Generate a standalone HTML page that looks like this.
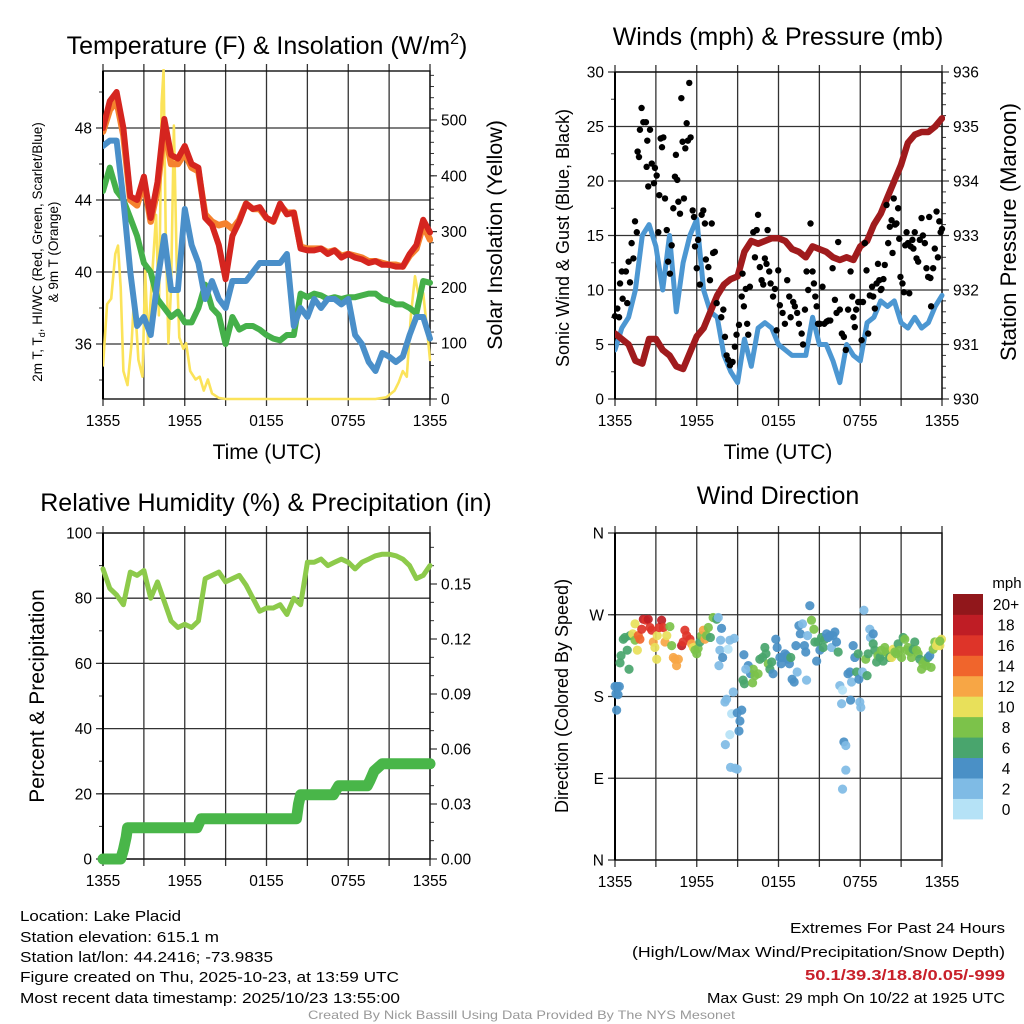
<!DOCTYPE html>
<html><head><meta charset="utf-8">
<style>
html,body{margin:0;padding:0;background:#fff;}
svg{display:block;font-family:"Liberation Sans",Arial,sans-serif;}
</style></head>
<body>
<svg id="fig" width="1024" height="1024" viewBox="0 0 1024 1024" xmlns="http://www.w3.org/2000/svg">
<rect x="0" y="0" width="1024" height="1024" fill="#fff"/>
<!-- Titles -->
<text x="267" y="54" font-size="25" text-anchor="middle">Temperature (F) &amp; Insolation (W/m<tspan font-size="16" dy="-10">2</tspan><tspan dy="10">)</tspan></text>
<text x="778" y="45" font-size="25" text-anchor="middle">Winds (mph) &amp; Pressure (mb)</text>
<text x="266" y="511" font-size="25" text-anchor="middle">Relative Humidity (%) &amp; Precipitation (in)</text>
<text x="778" y="504" font-size="25" text-anchor="middle">Wind Direction</text>

<!-- axis titles -->
<text x="267" y="459" font-size="21" text-anchor="middle">Time (UTC)</text>
<text x="778" y="459" font-size="21" text-anchor="middle">Time (UTC)</text>
<text transform="translate(42,252) rotate(-90)" font-size="13.5" text-anchor="middle">2m T, T<tspan font-size="9" dy="3">d</tspan><tspan dy="-3">, HI/WC (Red, Green, Scarlet/Blue)</tspan></text>
<text transform="translate(58,252) rotate(-90)" font-size="13.5" text-anchor="middle">&amp; 9m T (Orange)</text>
<text transform="translate(502,235) rotate(-90)" font-size="21.5" text-anchor="middle">Solar Insolation (Yellow)</text>
<text transform="translate(569,238) rotate(-90)" font-size="18" text-anchor="middle">Sonic Wind &amp; Gust (Blue, Black)</text>
<text transform="translate(1016,232) rotate(-90)" font-size="22" text-anchor="middle">Station Pressure (Maroon)</text>
<text transform="translate(44,696) rotate(-90)" font-size="21" text-anchor="middle">Percent &amp; Precipitation</text>
<text transform="translate(568,696) rotate(-90)" font-size="18" text-anchor="middle">Direction (Colored By Speed)</text>

<!-- footer -->
<g font-size="14.5">
<text x="20" y="921" textLength="161" lengthAdjust="spacingAndGlyphs">Location: Lake Placid</text>
<text x="20" y="942" textLength="199" lengthAdjust="spacingAndGlyphs">Station elevation: 615.1 m</text>
<text x="20" y="962" textLength="253" lengthAdjust="spacingAndGlyphs">Station lat/lon: 44.2416; -73.9835</text>
<text x="20" y="982" textLength="379" lengthAdjust="spacingAndGlyphs">Figure created on Thu, 2025-10-23, at 13:59 UTC</text>
<text x="20" y="1003" textLength="380" lengthAdjust="spacingAndGlyphs">Most recent data timestamp: 2025/10/23 13:55:00</text>
</g>
<g font-size="15">
<text x="790" y="933" textLength="215" lengthAdjust="spacingAndGlyphs">Extremes For Past 24 Hours</text>
<text x="632" y="957" textLength="373" lengthAdjust="spacingAndGlyphs">(High/Low/Max Wind/Precipitation/Snow Depth)</text>
<text x="805" y="980" fill="#c8202a" font-weight="bold" textLength="200" lengthAdjust="spacingAndGlyphs">50.1/39.3/18.8/0.05/-999</text>
<text x="707" y="1003" textLength="298" lengthAdjust="spacingAndGlyphs">Max Gust: 29 mph On 10/22 at 1925 UTC</text>
</g>
<text x="308" y="1019" font-size="12" fill="#999" textLength="427" lengthAdjust="spacingAndGlyphs">Created By Nick Bassill Using Data Provided By The NYS Mesonet</text>
<g id="layer"></g>
</svg>
<script>
// ---------- data ----------
const halfHours = [0,0.5,1,1.5,2,2.5,3,3.5,4,4.5,5,5.5,6,6.5,7,7.5,8,8.5,9,9.5,10,10.5,11,11.5,12,12.5,13,13.5,14,14.5,15,15.5,16,16.5,17,17.5,18,18.5,19,19.5,20,20.5,21,21.5,22,22.5,23,23.5,24];
const timeTickLabels = ["1355","1955","0155","0755","1355"];
const tempRed = [48,49.5,50,48,44.2,44,45.3,43,45,48.5,46.5,46.3,47,46,45.8,43,42.6,41.5,39.6,42,42.8,43.8,43.5,43.6,43,42.8,43.8,43.2,43.3,41.3,41.2,41.2,41.3,41,41.2,40.8,41,40.8,40.7,40.5,40.6,40.4,40.4,40.3,40.3,41,41.5,42.9,42.2];
const tempOrange = [47.8,49,49.5,47.6,44,43.7,45,42.8,44.6,48,46,46,46.6,45.8,45.6,43.2,42.8,42.6,42.7,42.4,42.9,43.8,43.5,43.5,43,42.8,43.7,43.3,43.3,41.4,41.3,41.3,41.3,41.1,41.2,40.9,41,40.9,40.8,40.6,40.6,40.5,40.4,40.4,40.3,40.9,41.3,42.6,41.8];
const dewGreen = [44.5,45.8,44.5,44,43,42,40.5,40,38.5,38,37.5,37.8,37.2,37.2,38,39.3,38,37.6,36,37.5,36.8,37,37,36.8,36.5,36.3,36.2,36.5,36.5,38.8,38.6,38.8,38.7,38.5,38.6,38.5,38.6,38.6,38.7,38.8,38.8,38.5,38.4,38.2,38.2,38,37.7,39.5,39.4];
const windChillBlue = [47,47.3,47.3,44,40,37,37.5,36.5,39.5,42,39,39,43.5,41.5,40.5,38.5,39.5,38.5,38,39.5,39.5,39.5,40,40.5,40.5,40.5,40.5,41,37,38,37.5,38.5,38,38.5,38.5,38.2,38.5,36.5,36,35,34.5,35.5,35.3,35,35.3,36.5,37.5,37.5,36.3];
const insolHours = [0,0.3,0.6,0.9,1.1,1.3,1.5,1.8,2.1,2.3,2.6,2.9,3.1,3.3,3.6,3.9,4.1,4.3,4.45,4.6,4.8,5.0,5.2,5.4,5.6,5.9,6.1,6.4,6.8,7.1,7.4,7.7,8.0,8.5,9,20,20.8,21.4,21.7,22,22.3,22.6,22.9,23.2,23.5,23.8,24];
const insolValues = [60,170,180,260,275,200,50,25,100,190,70,40,230,100,220,330,150,530,590,300,100,200,490,250,110,90,100,50,35,40,15,35,10,2,0,0,3,15,30,50,40,150,220,180,190,120,70];
const windBlue = [4.5,6.5,7.5,10,15,16,14,10,15,8,12.5,15,16.5,10,8,7.5,4,2.5,1.5,5.5,3,6.5,7,6.5,5,4.5,4,4,4,7.5,5,5,3.5,1.5,5,4,3.5,7,7.5,9,8.5,9,7,6.5,7.5,6.5,7,8.5,9.5];
const pressure = [931.2,931.1,931.0,930.7,930.65,931.1,931.1,930.9,930.8,930.6,930.55,930.85,931.15,931.3,931.6,931.9,932.1,932.2,932.25,932.7,932.9,932.85,932.9,932.95,932.95,932.9,932.75,932.7,932.6,932.8,932.75,932.7,932.6,932.55,932.6,932.55,932.8,932.9,933.2,933.4,933.7,934.0,934.3,934.7,934.85,934.9,934.9,935.0,935.15];
const gustHours = [0,0.17,0.3,0.37,0.5,0.8,0.56,0.9,1.0,1.1,1.22,1.35,1.47,1.6,1.66,1.76,1.83,1.95,2.08,2.27,2.32,2.37,2.44,2.57,2.7,2.86,2.93,3.06,3.18,3.25,3.35,3.45,3.55,3.67,3.8,3.9,4.03,4.16,4.28,4.4,4.47,4.57,4.65,4.77,4.87,4.96,5.06,5.16,5.26,5.35,5.45,5.55,5.7,5.8,5.87,6.0,6.1,6.23,6.36,6.48,6.6,6.67,6.85,6.97,7.1,7.2,7.33,7.46,7.8,7.95,8.07,8.19,8.31,8.44,8.63,8.8,8.92,9.1,9.3,9.36,9.46,9.6,9.7,9.78,9.9,10.15,10.27,10.4,10.5,10.63,10.76,10.88,11.0,11.12,11.2,11.32,11.42,11.6,11.74,11.86,11.98,12.1,12.3,12.47,12.64,12.79,12.89,13.08,13.2,13.37,13.5,13.7,13.8,13.94,14.06,14.18,14.35,14.5,14.6,14.7,14.8,14.9,15.04,15.23,15.36,15.53,15.67,15.8,15.97,16.14,16.26,16.38,16.5,16.65,16.8,16.94,17.11,17.29,17.41,17.5,17.6,17.7,17.85,17.97,18.1,18.2,18.34,18.46,18.58,18.7,18.87,18.95,19.07,19.2,19.3,19.4,19.5,19.56,19.7,19.8,19.93,20.05,20.17,20.3,20.37,20.46,20.56,20.66,20.78,20.86,20.95,21.1,21.2,21.3,21.4,21.5,21.6,21.7,21.83,21.9,22.0,22.13,22.25,22.37,22.5,22.6,22.74,22.86,22.98,23.06,23.15,23.2,23.35,23.47,23.6,23.7,23.8,23.9,24];
const gustValues = [7.6,8.3,7.5,10.6,11.7,11.7,9.2,8.8,12.6,10.7,14.3,12.9,16.3,15.3,22.7,22.2,24.7,26.7,25.4,25.4,21.3,23.7,19.5,24.7,21.6,19.8,21.2,20.5,15.3,18.7,23.9,23.1,24.0,18.4,15.5,12.6,11.5,14.1,17.5,20.4,22.4,20.1,18.1,17,27.6,23.6,18.4,23,25.3,23.7,29,24,17.3,16.7,14,12,14.6,10.5,16.9,17.3,16.1,12.8,12.1,10.9,16.1,13.4,13.5,8.8,7.5,8.2,5.7,4.0,3.6,3.1,3.4,4.8,5.9,6.8,9.4,11.5,8.5,10.1,6.9,5.9,10.3,15.3,13,15.5,16.9,12.1,10.9,10.5,12.9,12.4,15.5,11.7,10.6,9.4,10.1,6.3,11.8,8.6,7.9,6.9,10.9,9.4,7.5,8.9,8.5,7.9,6.9,6,5,8.2,11.7,10,16.1,11.7,10.6,9.4,8.5,6.9,6.9,10.3,6.9,7.1,7.2,7.2,12,9.1,7.9,14.4,8.2,6,5.7,4.5,8.2,11.7,9.4,7.5,6.6,8.2,8.9,8.9,5.4,8.9,14.3,11.8,6,9.5,10.3,9.4,8.3,10.6,12.4,10.9,10,10.1,11,12.3,17.8,14.3,15.8,16.4,13.4,18.4,16,16.1,17.5,14.7,11.2,10.6,9.8,14.1,15.3,14.3,9.7,14,14.6,13.8,15.3,12.9,12.6,14.6,16.6,15,14.3,12,11.2,16.7,11.1,8.5,12,13.8,17.2,13,16.3,15.3,15.6];
const rhValues = [89,83,81,78,88,87,88.5,80,85,79,73,71,72,71,73,86,87,88,85,86,87,84,80,76,77,77,78,75,80,78,91,91,92,90,91,92,91,89,91,92,93,93.5,93.5,93,92,90,86,87,90];
const precipHours = [0,1.3,1.5,1.7,1.8,6.9,7.2,14.2,14.35,14.5,16.9,17.3,19.4,19.6,19.9,20.5,24];
const precipValues = [0,0,0.005,0.012,0.017,0.017,0.022,0.022,0.03,0.035,0.035,0.04,0.04,0.043,0.048,0.052,0.052];
const dirHours = [0,0.17,0.32,0.07,0.22,0.12,0.37,0.44,0.61,0.73,0.9,1.03,1.1,1.3,1.47,1.47,1.64,1.71,1.83,1.96,2.08,2.27,2.44,2.57,2.7,2.81,2.93,3.06,3.1,3.25,3.42,3.55,3.67,3.8,4.03,4.16,4.28,4.4,4.52,4.65,4.89,5.0,5.13,5.26,5.5,5.62,5.75,5.87,6.0,6.1,6.23,6.36,6.48,6.6,6.72,6.85,7.0,7.2,7.46,7.58,7.82,7.75,7.7,7.9,7.63,8.3,8.43,8.75,8.07,8.19,8.68,8.56,8.43,8.1,8.48,8.8,8.97,8.97,9.3,9.17,9.1,9.4,9.5,9.46,9.78,9.95,10.15,10.27,10.5,10.1,9.6,10.63,10.83,11.0,11.08,11.25,11.37,11.5,11.6,11.8,11.9,12.1,12.2,12.35,12.47,12.6,12.7,12.8,12.9,13.0,13.15,13.28,13.37,13.5,13.6,13.76,13.9,14.0,14.06,14.13,14.3,14.42,14.6,14.67,14.8,14.9,15.04,15.16,15.28,15.4,15.53,15.65,15.77,15.9,16.0,16.14,16.26,16.38,16.5,16.7,16.63,16.8,16.94,16.94,16.7,17.1,17.24,17.36,17.29,17.48,17.6,17.73,17.85,17.9,17.97,18.04,18.17,18.27,18.4,18.5,18.7,18.75,18.95,18.58,18.95,19.07,19.2,19.3,19.44,19.56,19.68,19.8,19.93,20.05,20.17,20.3,20.42,20.54,20.66,20.78,20.9,21.03,21.15,21.27,21.4,21.5,21.64,21.76,21.88,22.0,22.13,22.25,22.37,22.5,22.6,22.74,22.86,22.98,23.1,23.2,23.35,23.47,23.6,23.7,23.84,23.96,23.84];
const dirDegrees = [191,191,191,183,182,165,217,225,243,245,231,210,247,249,260,242,231,247,243,254,265,264,265,256,253,240,234,221,247,256,264,256,240,247,257,236,223,221,214,221,236,240,253,247,243,238,234,231,227,233,240,247,253,243,247,256,245,267,265,267,255,242,231,223,214,232,242,244,174,177,185,161,138,127,102,101,100,162,165,153,142,198,194,226,214,205,210,203,205,195,210,221,223,234,227,216,210,218,205,243,234,223,216,223,227,225,221,216,223,199,196,236,207,258,249,260,236,229,198,247,280,264,254,240,219,240,231,245,234,243,249,245,247,234,247,251,240,229,192,187,172,130,126,99,78,205,207,196,176,236,223,207,227,199,174,168,207,275,221,203,254,245,249,227,238,231,218,225,223,231,219,234,229,227,223,223,232,229,227,238,231,223,245,243,231,234,229,223,232,240,231,227,221,210,216,219,214,223,225,212,232,240,236,240,236,243,241];
const dirSpeeds = [4,4,4,4,4,4,6,6,6,6,6,6,6,10,10,8,10,14,14,17,18,17,18,16,16,12,10,10,10,16,18,16,12,10,8,8,12,13,12,12,18,16,16,17,17,12,10,8,8,8,7,8,12,13,8,8,7,8,7,2,4,2,2,4,2,1,2,2,2,2,2,1,1,2,2,2,2,4,4,4,4,6,6,4,4,4,8,8,8,8,2,6,6,6,6,8,6,6,4,4,4,4,4,4,4,4,4,4,6,4,4,4,2,4,4,2,4,4,2,2,4,8,8,6,4,6,4,6,6,6,4,4,4,2,4,4,4,6,2,1,2,4,2,2,2,4,4,2,4,4,4,6,6,4,2,2,2,2,8,6,2,2,4,6,6,6,6,8,6,8,6,8,8,8,6,10,10,8,8,6,8,8,6,8,8,8,8,8,6,6,8,8,6,8,8,8,8,6,4,8,8,8,10,10,10,10,8];
const speedBinLabels = ["0","2","4","6","8","10","12","14","16","18","20+"];
const speedBinColors = ["#b5e2f6","#7fbbe5","#4a90c6","#49a56d","#7cc24a","#e8e05a","#f7a645","#f0652c","#de3429","#bf1d25","#91171b"];

// ---------- helpers ----------
const NS = "http://www.w3.org/2000/svg";
const layer = document.getElementById("layer");
function mk(tag, attrs, parent){
  const e = document.createElementNS(NS, tag);
  for (const k in attrs) e.setAttribute(k, attrs[k]);
  (parent||layer).appendChild(e);
  return e;
}
function makeScale(d0,d1,r0,r1){ return v => r0 + (v-d0)*(r1-r0)/(d1-d0); }

function drawFrame(p){
  const g = mk("g",{});
  
  
  const xs = p.xs;
  for (let h=0; h<=24; h+=3){
    const x = xs(h);
    const l = mk("line",{x1:x,y1:p.top-7,x2:x,y2:p.bottom+7,stroke:"#333","stroke-width":1.3},g);
    
    
  }
  timeTickLabels.forEach((lab,i)=>{
    const t = mk("text",{x:xs(i*6),y:p.bottom+27,"font-size":15.5,"text-anchor":"middle"},g);
    t.textContent = lab;
    
    
  });
  for (let v=p.lmin; v<=p.lmax+1e-9; v+=p.lminor){
    const y = p.ys(v);
    if (y < p.top-0.5 || y > p.bottom+0.5) continue;
    mk("line",{x1:p.left-4,y1:y,x2:p.left,y2:y,stroke:"#333","stroke-width":1},g);
  }
  p.lticks.forEach((v,i)=>{
    const y = p.ys(v);
    const l = mk("line",{x1:p.left-7,y1:y,x2:p.right,y2:y,stroke:"#333","stroke-width":1.3},g);
    
    
    const t = mk("text",{x:p.left-11,y:y+5.5,"font-size":15.5,"text-anchor":"end"},g);
    t.textContent = p.llabels[i];
    
    
  });
  if (p.yr){
    for (let v=p.rmin; v<=p.rmax+1e-9; v+=p.rminor){
      const y = p.yr(v);
      if (y < p.top-0.5 || y > p.bottom+0.5) continue;
      mk("line",{x1:p.right,y1:y,x2:p.right+4,y2:y,stroke:"#333","stroke-width":1},g);
    }
    p.rticks.forEach((v,i)=>{
      const y = p.yr(v);
      mk("line",{x1:p.right,y1:y,x2:p.right+7,y2:y,stroke:"#333","stroke-width":1.2},g);
      const t = mk("text",{x:p.right+11,y:y+5.5,"font-size":15.5},g);
      t.textContent = p.rlabels[i];
      
      
    });
  }
  mk("rect",{x:p.left,y:p.top,width:p.right-p.left,height:p.bottom-p.top,fill:"none",stroke:"#111","stroke-width":1.4},g);
  mk("line",{x1:p.left,y1:p.top,x2:p.left,y2:p.bottom,stroke:"#000","stroke-width":2},g);
}
function line(xsArr, ysArr, xs, ys, style, name, clip){
  let d = "";
  xsArr.forEach((h,i)=>{ d += (i?"L":"M") + xs(h).toFixed(1) + "," + ys(ysArr[i]).toFixed(1); });
  const attrs = Object.assign({d:d,fill:"none","stroke-linejoin":"round","stroke-linecap":"round"}, style);
  if (clip) attrs["clip-path"] = clip;
  const e = mk("path", attrs);
  
  
  return e;
}
const defs = mk("defs",{});
function clipRect(id,x,y,w,h){ const c = mk("clipPath",{id:id},defs); mk("rect",{x:x,y:y,width:w,height:h},c); return "url(#"+id+")"; }

// ---------- panel 1: temperature ----------
(function(){
  const L=103,R=430,T=71,B=399;
  const xs = makeScale(0,24,L,R);
  const ys = makeScale(48,36,128,344);
  const yr = makeScale(0,500,399,120);
  drawFrame({name:"temperature",xs:xs,ys:ys,yr:yr,left:L,right:R,top:T,bottom:B,
    lmin:34,lmax:50,lminor:2,lticks:[36,40,44,48],llabels:["36","40","44","48"],
    rmin:0,rmax:580,rminor:20,rticks:[0,100,200,300,400,500],rlabels:["0","100","200","300","400","500"]});
  const c = clipRect("c1",L,T-2,R-L+3,B-T+4);
  line(insolHours, insolValues, xs, yr, {stroke:"#fbe35a","stroke-width":2.6}, "insolation-line", c);
  line(halfHours, dewGreen, xs, ys, {stroke:"#45b04a","stroke-width":6}, "dewpoint-line", c);
  line(halfHours, windChillBlue, xs, ys, {stroke:"#4a8fc9","stroke-width":6}, "windchill-line", c);
  line(halfHours, tempOrange, xs, ys, {stroke:"#f5822e","stroke-width":6.5}, "temp-9m-line", c);
  line(halfHours, tempRed, xs, ys, {stroke:"#d5251f","stroke-width":6}, "temp-2m-line", c);
})();

// ---------- panel 2: winds ----------
(function(){
  const L=615,R=942,T=72,B=399;
  const xs = makeScale(0,24,L,R);
  const ys = makeScale(0,30,399,72);
  const yr = makeScale(930,936,399,72);
  drawFrame({name:"winds",xs:xs,ys:ys,yr:yr,left:L,right:R,top:T,bottom:B,
    lmin:0,lmax:30,lminor:2.5,lticks:[0,5,10,15,20,25,30],llabels:["0","5","10","15","20","25","30"],
    rmin:930,rmax:936,rminor:0.2,rticks:[930,931,932,933,934,935,936],rlabels:["930","931","932","933","934","935","936"]});
  const c = clipRect("c2",L,T-2,R-L+3,B-T+4);
  line(halfHours, windBlue, xs, ys, {stroke:"#4c97d2","stroke-width":5}, "sonic-wind-line", c);
  line(halfHours, pressure, xs, yr, {stroke:"#a01b1d","stroke-width":6.5}, "pressure-line", c);
  gustHours.forEach((h,i)=>{
    const d = mk("circle",{cx:xs(h),cy:ys(gustValues[i]),r:3.2,fill:"#000"});
    
    
  });
})();

// ---------- panel 3: humidity ----------
(function(){
  const L=103,R=430,T=533,B=859;
  const xs = makeScale(0,24,L,R);
  const ys = makeScale(0,100,859,533);
  const yr = makeScale(0,0.03,859,804);
  drawFrame({name:"humidity",xs:xs,ys:ys,yr:yr,left:L,right:R,top:T,bottom:B,
    lmin:0,lmax:100,lminor:10,lticks:[0,20,40,60,80,100],llabels:["0","20","40","60","80","100"],
    rmin:0,rmax:0.18,rminor:0.01,rticks:[0,0.03,0.06,0.09,0.12,0.15],rlabels:["0.00","0.03","0.06","0.09","0.12","0.15"]});
  line(halfHours, rhValues, xs, ys, {stroke:"#8dca4b","stroke-width":5}, "humidity-line");
  line(precipHours, precipValues, xs, yr, {stroke:"#49b649","stroke-width":11}, "precipitation-line");
})();

// ---------- panel 4: wind direction ----------
(function(){
  const L=615,R=942,T=533,B=860;
  const xs = makeScale(0,24,L,R);
  const ys = makeScale(0,360,860,533);
  drawFrame({name:"wind-direction",xs:xs,ys:ys,left:L,right:R,top:T,bottom:B,
    lmin:0,lmax:360,lminor:90,lticks:[0,90,180,270,360],llabels:["N","E","S","W","N"]});
  dirHours.forEach((h,i)=>{
    const bin = Math.min(10, Math.floor(dirSpeeds[i]/2));
    const d = mk("circle",{cx:xs(h),cy:ys(dirDegrees[i]),r:4.6,fill:speedBinColors[bin],"fill-opacity":0.92});
    
    
  });
  const cb = mk("g",{});
  
  
  const cbTop=594, cbBot=819, n=speedBinColors.length, bh=(cbBot-cbTop)/n;
  for (let i=0;i<n;i++){
    const y = cbBot - (i+1)*bh;
    const r = mk("rect",{x:953,y:y,width:30,height:bh+0.4,fill:speedBinColors[i]},cb);
    
    
    const t = mk("text",{x:1006,y:y+bh/2+6,"font-size":15.5,"text-anchor":"middle"},cb);
    t.textContent = speedBinLabels[i];
    
    
  }
  const m = mk("text",{x:1007,y:588,"font-size":15,"text-anchor":"middle"},cb);
  m.textContent = "mph";
  
  
})();
</script>
</body></html>
